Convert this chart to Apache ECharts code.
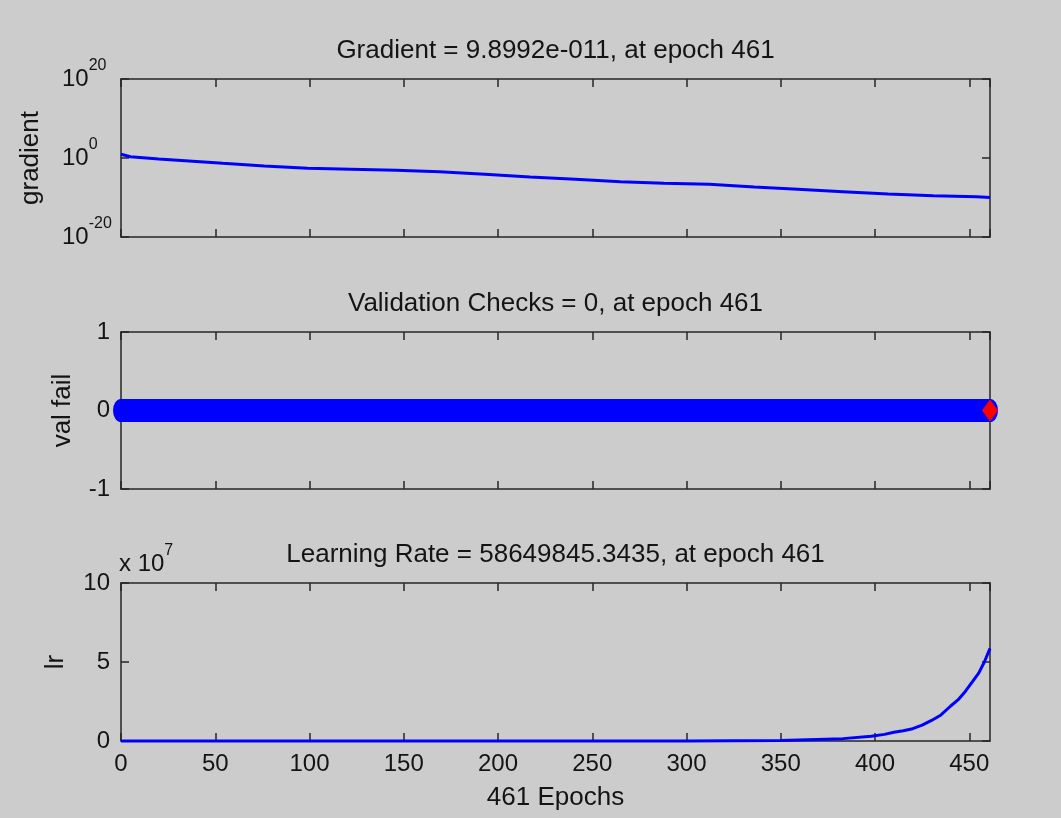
<!DOCTYPE html>
<html>
<head>
<meta charset="utf-8">
<title>Training state</title>
<script src="https://cdn.jsdelivr.net/npm/echarts@6/dist/echarts.min.js"></script>
<style>
html, body { margin: 0; padding: 0; background: #cccccc; }
#chart_1 { width: 1061px; height: 818px; }
</style>
</head>
<body>
<div id="chart_1"></div>
<script>
// epochs
var lastEpoch = 461;
var xTicks = [0, 50, 100, 150, 200, 250, 300, 350, 400, 450];

// gradient (log scale)
var gradEpochs = [0, 5, 20, 34, 54, 76, 99, 122, 146, 169, 193, 217, 241, 265, 288, 312, 336, 359, 383, 407, 431, 454, 461];
var gradValues = [8.7, 2.1, 0.56, 0.21, 0.046, 0.0094, 0.0025, 0.0014, 7.7e-4, 3.4e-4, 7.5e-5, 1.5e-5, 4.1e-6, 1e-6, 4e-7, 2.2e-7, 4.6e-8, 1.2e-8, 3e-9, 7.7e-10, 2.9e-10, 1.6e-10, 9.8992e-11];

// validation checks: 0 at every epoch
var valFailValue = 0;

// learning rate
var lrEpochs = [0, 100, 200, 300, 350, 383, 398, 405, 410, 415, 420, 425, 430, 435, 440, 444, 448, 452, 455, 458, 461];
var lrValues = [0, 0, 1e4, 5e4, 3e5, 1.5e6, 3e6, 4.2e6, 5.5e6, 6.5e6, 7.8e6, 1.0e7, 1.3e7, 1.65e7, 2.2e7, 2.6e7, 3.15e7, 3.8e7, 4.3e7, 5.0e7, 58649845.3435];

var titles = [
    'Gradient = 9.8992e-011, at epoch 461',
    'Validation Checks = 0, at epoch 461',
    'Learning Rate = 58649845.3435, at epoch 461'
];

var gradData = [];
for (var i = 0; i < gradEpochs.length; i++) gradData.push([gradEpochs[i], gradValues[i]]);
var lrData = [];
for (var i = 0; i < lrEpochs.length; i++) lrData.push([lrEpochs[i], lrValues[i]]);
var valData = [];
for (var e = 0; e <= lastEpoch; e++) valData.push([e, valFailValue]);

var FONT = '"Liberation Sans", Arial, Helvetica, sans-serif';
var TXT = '#141414';
var AX = '#262626';
var FS = 24;   // tick labels
var FT = 26;   // titles and axis labels

var grids = [
    {left: 121, right: 71, top: 79, height: 158},
    {left: 121, right: 71, top: 332, height: 157},
    {left: 121, right: 71, top: 583, height: 158}
];
grids.forEach(function (g) { g.outerBoundsMode = 'none'; g.containLabel = false; });

function xAxisFor(gi, pos, opts) {
    var a = {
        type: 'value',
        gridIndex: gi,
        position: pos,
        min: 0,
        max: lastEpoch,
        interval: 50,
        axisLine: {show: true, onZero: false, lineStyle: {color: AX, width: 1.5}},
        axisTick: {show: true, inside: true, length: 8, lineStyle: {color: AX, width: 1.5}},
        axisLabel: {show: false},
        splitLine: {show: false}
    };
    for (var k in opts) a[k] = opts[k];
    return a;
}

function yAxisFor(gi, pos, opts) {
    var a = {
        gridIndex: gi,
        position: pos,
        axisLine: {show: true, onZero: false, lineStyle: {color: AX, width: 1.5}},
        axisTick: {show: true, inside: true, length: 8, lineStyle: {color: AX, width: 1.5}},
        axisLabel: {show: false},
        splitLine: {show: false}
    };
    for (var k in opts) a[k] = opts[k];
    return a;
}

var nameStyle = {fontFamily: FONT, fontSize: FT, color: TXT, fontWeight: 'normal'};

var titleName = function (t, gap) {
    return {
        name: t,
        nameLocation: 'middle',
        nameGap: gap,
        nameTextStyle: nameStyle
    };
};

var xAxes = [];
for (var gi = 0; gi < 3; gi++) {
    var bottomOpts = {};
    if (gi === 2) {
        bottomOpts = {
            axisLabel: {
                show: true, margin: 11, fontFamily: FONT, fontSize: FS, color: TXT,
                showMaxLabel: false,
                formatter: function (v) { return xTicks.indexOf(v) >= 0 ? String(v) : ''; }
            },
            name: '461 Epochs',
            nameLocation: 'middle',
            nameGap: 44,
            nameTextStyle: nameStyle
        };
    }
    xAxes.push(xAxisFor(gi, 'bottom', bottomOpts));
    xAxes.push(xAxisFor(gi, 'top', titleName(titles[gi], 15)));
}

var supRich = {
    b: {fontFamily: FONT, fontSize: FS, color: TXT, fontWeight: 'normal'},
    s: {fontFamily: FONT, fontSize: 16, color: TXT, fontWeight: 'normal', verticalAlign: 'top', padding: [0, 0, 26, 0]}
};

var yAxes = [
    yAxisFor(0, 'left', {
        type: 'log', logBase: 10, min: 1e-20, max: 1e20, splitNumber: 2,
        axisLabel: {
            show: true, align: 'left', margin: 59,
            formatter: function (v) {
                var p = Math.round(Math.log(v) / Math.LN10);
                return '{b|10}{s|' + p + '}';
            },
            rich: supRich
        },
        name: 'gradient', nameLocation: 'middle', nameGap: 77, nameRotate: 90,
        nameTextStyle: nameStyle
    }),
    yAxisFor(0, 'right', {type: 'log', logBase: 10, min: 1e-20, max: 1e20, splitNumber: 2}),
    yAxisFor(1, 'left', {
        type: 'value', min: -1, max: 1, interval: 1,
        axisLabel: {show: true, margin: 11, fontFamily: FONT, fontSize: FS, color: TXT},
        name: 'val fail', nameLocation: 'middle', nameGap: 45, nameRotate: 90,
        nameTextStyle: nameStyle
    }),
    yAxisFor(1, 'right', {type: 'value', min: -1, max: 1, interval: 1}),
    yAxisFor(2, 'left', {
        type: 'value', min: 0, max: 1e8, interval: 5e7,
        axisLabel: {
            show: true, margin: 11, fontFamily: FONT, fontSize: FS, color: TXT,
            formatter: function (v) { return String(Math.round(v / 1e7)); }
        },
        name: 'lr', nameLocation: 'middle', nameGap: 52, nameRotate: 90,
        nameTextStyle: nameStyle
    }),
    yAxisFor(2, 'right', {type: 'value', min: 0, max: 1e8, interval: 5e7})
];

var myChart = echarts.init(document.getElementById('chart_1'));
var option = {
    backgroundColor: '#cccccc',
    animation: false,
    title: [{
        text: '{b|x 10}{s|7}',
        left: 119,
        top: 543,
        padding: 0,
        textStyle: {fontWeight: 'normal', rich: supRich}
    }],
    grid: grids,
    xAxis: xAxes,
    yAxis: yAxes,
    series: [
        {
            name: 'gradient',
            type: 'line',
            xAxisIndex: 0,
            yAxisIndex: 0,
            data: gradData,
            showSymbol: false,
            clip: false,
            lineStyle: {color: '#0000ff', width: 3}
        },
        {
            name: 'val fail',
            type: 'scatter',
            xAxisIndex: 2,
            yAxisIndex: 2,
            data: valData,
            symbol: 'circle',
            symbolSize: [16, 23],
            clip: false,
            itemStyle: {color: '#0000ff', opacity: 1}
        },
        {
            name: 'val fail epoch',
            type: 'scatter',
            xAxisIndex: 2,
            yAxisIndex: 2,
            data: [[lastEpoch, valFailValue]],
            symbol: 'diamond',
            symbolSize: [16, 22],
            clip: false,
            z: 5,
            itemStyle: {color: '#ff0000', opacity: 1}
        },
        {
            name: 'lr',
            type: 'line',
            xAxisIndex: 4,
            yAxisIndex: 4,
            data: lrData,
            showSymbol: false,
            clip: false,
            lineStyle: {color: '#0000ff', width: 3}
        }
    ]
};
myChart.setOption(option);
</script>
</body>
</html>
